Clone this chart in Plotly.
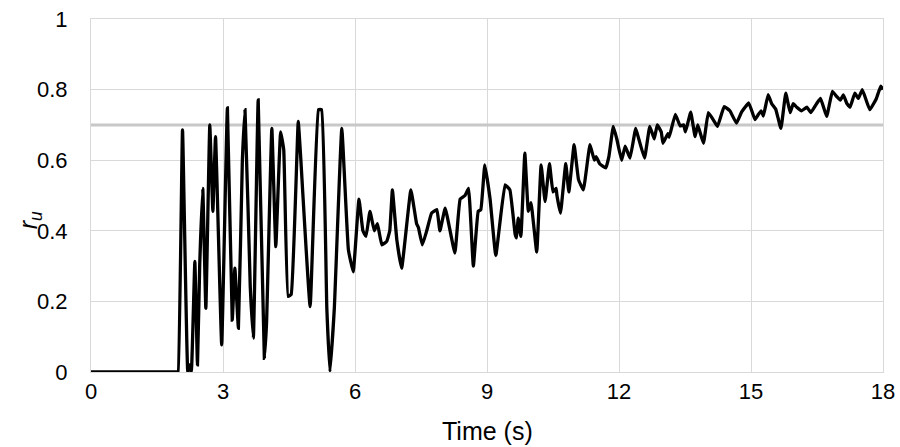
import plotly.graph_objects as go

time_s = [0, 1.0, 1.96, 1.98, 2.08, 2.20, 2.24, 2.28, 2.36, 2.42, 2.47, 2.54, 2.61, 2.70, 2.77, 2.83, 2.97,
          3.10, 3.21, 3.27, 3.35, 3.44, 3.50, 3.62, 3.69, 3.80, 3.94, 3.99, 4.11, 4.20, 4.31,
          4.38, 4.48, 4.55, 4.71, 4.76, 4.98, 5.17, 5.24, 5.36, 5.43, 5.53, 5.70, 5.85, 5.96,
          6.09, 6.18, 6.25, 6.34, 6.44, 6.51, 6.61, 6.72, 6.79, 6.85, 6.95, 7.06, 7.27, 7.40,
          7.44, 7.53, 7.63, 7.74, 7.86, 7.93, 8.05, 8.27, 8.39, 8.50, 8.58, 8.69, 8.80, 8.86,
          8.95, 9.07, 9.20, 9.41, 9.52, 9.64, 9.67, 9.71, 9.77, 9.86, 9.94, 10.00, 10.13, 10.23,
          10.32, 10.42, 10.50, 10.57, 10.59, 10.67, 10.79, 10.86, 10.98, 11.08, 11.19, 11.34,
          11.44, 11.48, 11.56, 11.70, 11.77, 11.87, 11.95, 12.06, 12.14, 12.25, 12.38, 12.45,
          12.58, 12.70, 12.80, 12.87, 12.96, 13.00, 13.11, 13.14, 13.28, 13.39, 13.47, 13.51,
          13.63, 13.73, 13.79, 13.92, 14.03, 14.14, 14.24, 14.39, 14.52, 14.67, 14.78, 14.95,
          15.09, 15.17, 15.23, 15.28, 15.39, 15.47, 15.56, 15.68, 15.79, 15.89, 15.96, 16.04,
          16.15, 16.27, 16.36, 16.49, 16.58, 16.72, 16.85, 16.95, 17.03, 17.10, 17.18, 17.25,
          17.36, 17.44, 17.53, 17.70, 17.85, 17.95, 18.00]

r_u = [0, 0, 0, 0, 0.686, 0.0, 0.02, 0.0, 0.313, 0.02, 0.30, 0.52, 0.18, 0.70, 0.455, 0.667, 0.077,
       0.748, 0.147, 0.294, 0.124, 0.60, 0.743, 0.24, 0.096, 0.771, 0.039, 0.14, 0.69, 0.355, 0.68,
       0.63, 0.214, 0.22, 0.71, 0.62, 0.185, 0.743, 0.743, 0.18, 0.0, 0.18, 0.69, 0.346, 0.284,
       0.49, 0.40, 0.384, 0.455, 0.40, 0.42, 0.36, 0.37, 0.40, 0.516, 0.375, 0.294, 0.516, 0.42,
       0.41, 0.36, 0.40, 0.45, 0.46, 0.40, 0.464, 0.337, 0.49, 0.50, 0.52, 0.30, 0.455, 0.46,
       0.587, 0.49, 0.33, 0.53, 0.516, 0.39, 0.38, 0.436, 0.384, 0.62, 0.455, 0.48, 0.34, 0.587,
       0.483, 0.59, 0.51, 0.52, 0.50, 0.45, 0.59, 0.51, 0.644, 0.545, 0.516, 0.644,
       0.60, 0.61, 0.59, 0.578, 0.61, 0.696, 0.66, 0.60, 0.64, 0.606, 0.69, 0.66,
       0.606, 0.696, 0.66, 0.70, 0.68, 0.648, 0.675, 0.665, 0.73, 0.697, 0.70, 0.68,
       0.736, 0.667, 0.70, 0.648, 0.735, 0.715, 0.696, 0.752, 0.74, 0.705, 0.735, 0.762,
       0.715, 0.73, 0.74, 0.725, 0.786, 0.76, 0.745, 0.69, 0.79, 0.735, 0.76, 0.75,
       0.74, 0.75, 0.735, 0.76, 0.775, 0.724, 0.795, 0.78, 0.77, 0.785, 0.76, 0.75,
       0.79, 0.775, 0.80, 0.743, 0.775, 0.81, 0.80]

threshold = 0.7
x_ticks = [0, 3, 6, 9, 12, 15, 18]
y_ticks = [0, 0.2, 0.4, 0.6, 0.8, 1]
y_tick_labels = ["0", "0.2", "0.4", "0.6", "0.8", "1"]
x_title = "Time (s)"
y_title = "<i>r<sub>u</sub></i>"

fig = go.Figure()
fig.add_trace(go.Scatter(x=[x_ticks[0], x_ticks[-1]], y=[threshold, threshold], mode="lines",
                         line=dict(color="#c8c8c8", width=3), hoverinfo="skip", showlegend=False))
fig.add_trace(go.Scatter(x=time_s, y=r_u, mode="lines", cliponaxis=False,
                         line=dict(color="black", width=3.3, shape="spline", smoothing=0.3),
                         showlegend=False))

font = dict(family="Liberation Sans, Arial, sans-serif", size=22, color="black")
title_font = dict(family="Liberation Sans, Arial, sans-serif", size=25, color="black")
fig.update_layout(
    width=900, height=447, margin=dict(l=91, r=17, t=19, b=75),
    paper_bgcolor="white", plot_bgcolor="white", font=font,
    annotations=[
        dict(text=x_title, xref="paper", yref="paper", x=0.5, y=0, xanchor="center",
             yanchor="middle", yshift=-59, showarrow=False, font=title_font),
        dict(text=y_title, xref="paper", yref="paper", x=0, y=0.43, xanchor="center",
             yanchor="middle", xshift=-61, textangle=-90, showarrow=False, font=title_font),
    ],
)
fig.update_xaxes(range=[0, 18], tickvals=x_ticks, showgrid=True, gridcolor="#d9d9d9", gridwidth=1,
                 zeroline=False, showline=True, linecolor="#d9d9d9", mirror=True,
                 layer="below traces", automargin=False, ticks="", tickfont=font)
fig.update_yaxes(range=[0, 1], tickvals=y_ticks, ticktext=y_tick_labels, showgrid=True,
                 gridcolor="#d9d9d9", gridwidth=1, zeroline=False, showline=True,
                 linecolor="#d9d9d9", mirror=True, ticks="", ticklabelstandoff=18,
                 layer="below traces", automargin=False, tickfont=font)

fig.write_html("out.html", config={"displayModeBar": False},
               post_script="document.body.style.margin='0';")
